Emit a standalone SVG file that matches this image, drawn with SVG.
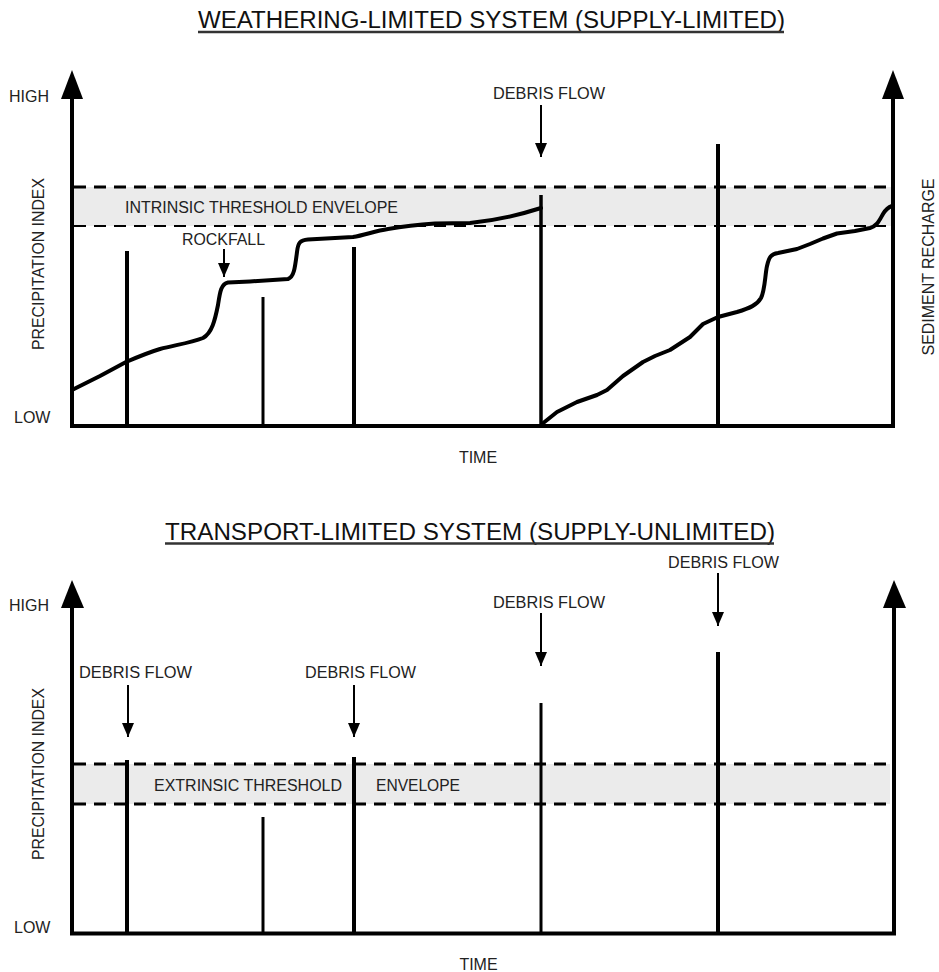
<svg xmlns="http://www.w3.org/2000/svg" width="939" height="972" viewBox="0 0 939 972">
  <style>
    .lbl { font-family: "Liberation Sans", Arial, sans-serif; font-size: 16px; fill: #222; }
    .ttl { font-family: "Liberation Sans", Arial, sans-serif; font-size: 23px; fill: #111; }
    .ax { stroke: #000; stroke-width: 4; fill: none; }
    .bar { stroke: #000; fill: none; }
    .dash { stroke: #000; stroke-dasharray: 12 8; fill: none; }
    .band { fill: #ebebeb; }
    .curve { stroke: #000; stroke-width: 4; fill: none; stroke-linejoin: round; stroke-linecap: round; }
    .ptr { stroke: #000; stroke-width: 2; fill: none; }
    .head { fill: #000; }
    .ul { stroke: #333; stroke-width: 2.5; }
  </style>
  <defs>
    <marker id="ah" markerUnits="userSpaceOnUse" markerWidth="14" markerHeight="12" refX="14" refY="6" orient="auto">
      <path d="M0,0 L14,6 L0,12 Z" fill="#000"/>
    </marker>
  </defs>
  <rect width="939" height="972" fill="#fff"/>

  <!-- ================= TOP PANEL ================= -->
  <g id="top-title">
    <text class="ttl" x="198" y="28" textLength="587" lengthAdjust="spacingAndGlyphs">WEATHERING-LIMITED SYSTEM (SUPPLY-LIMITED)</text>
    <line class="ul" x1="198" y1="32" x2="784" y2="32"/>
  </g>

  <g id="top-band">
    <rect class="band" x="72" y="187" width="819" height="39"/>
    <line class="dash" x1="74" y1="187" x2="891" y2="187" stroke-width="3"/>
    <line class="dash" x1="74" y1="226" x2="891" y2="226" stroke-width="2"/>
  </g>

  <g id="top-bars">
    <line class="bar" x1="127" y1="251" x2="127" y2="426" stroke-width="4"/>
    <line class="bar" x1="263" y1="297" x2="263" y2="426" stroke-width="3"/>
    <line class="bar" x1="354" y1="247" x2="354" y2="426" stroke-width="4"/>
    <line class="bar" x1="541" y1="195" x2="541" y2="426" stroke-width="3.5"/>
    <line class="bar" x1="718" y1="144" x2="718" y2="426" stroke-width="4"/>
  </g>

  <g id="top-curve">
    <path class="curve" d="M72,390 L100,376 L126,362 C140,356 150,352 160,349 C175,345 190,343 203,338 C212,333 215,320 218,305 C220,292 221,284 228,282.5 L250,281.5 L288,279 C294,277 295,268 297,252 C298,243 300,240 308,239.5 L353,237 C365,235 375,231 388,229 C400,227 415,225 435,223.5 L470,223 C490,221 510,218 541,208"/>
    <path class="curve" d="M542,424 L557,412 L567,407 L577,402 L597,395 L607,390 L615,383 L623,376 L643,362 L655,356 L670,350 L690,337 L703,324 L718,317 L737,312 C750,308 757,305 761,298 C765,290 765,275 767,266 C769,257 771,254 778,253 L797,249 L810,244 L823,238.5 L837,233.5 L855,231 L870,228 C877,226 879,221 883,214 C886,209 889,207 892,206"/>
  </g>

  <g id="top-axes">
    <polyline class="ax" points="72,99 72,426 893,426 893,99"/>
    <polygon class="head" points="72,70 61,99 83,99"/>
    <polygon class="head" points="893,70 882,99 904,99"/>
  </g>

  <g id="top-labels">
    <text class="lbl" x="9" y="102">HIGH</text>
    <text class="lbl" x="14" y="423">LOW</text>
    <text class="lbl" transform="translate(44,264) rotate(-90)" text-anchor="middle" textLength="172" lengthAdjust="spacingAndGlyphs">PRECIPITATION INDEX</text>
    <text class="lbl" transform="translate(934,267) rotate(-90)" text-anchor="middle" textLength="177" lengthAdjust="spacingAndGlyphs">SEDIMENT RECHARGE</text>
    <text class="lbl" x="125" y="212.5" textLength="273" lengthAdjust="spacingAndGlyphs">INTRINSIC THRESHOLD ENVELOPE</text>
    <text class="lbl" x="182" y="245" textLength="83" lengthAdjust="spacingAndGlyphs">ROCKFALL</text>
    <text class="lbl" x="493" y="99" textLength="112" lengthAdjust="spacingAndGlyphs">DEBRIS FLOW</text>
    <text class="lbl" x="478" y="463" text-anchor="middle">TIME</text>
  </g>

  <!-- ================= BOTTOM PANEL ================= -->
  <g id="bottom-title">
    <text class="ttl" x="165" y="540" textLength="610" lengthAdjust="spacingAndGlyphs">TRANSPORT-LIMITED SYSTEM (SUPPLY-UNLIMITED)</text>
    <line class="ul" x1="165" y1="543.5" x2="774" y2="543.5"/>
  </g>

  <g id="bottom-band">
    <rect class="band" x="72" y="764" width="818" height="40"/>
    <line class="dash" x1="74" y1="764" x2="890" y2="764" stroke-width="3"/>
    <line class="dash" x1="74" y1="804" x2="890" y2="804" stroke-width="3"/>
  </g>

  <g id="bottom-bars">
    <line class="bar" x1="127" y1="760" x2="127" y2="933" stroke-width="4"/>
    <line class="bar" x1="263" y1="817" x2="263" y2="933" stroke-width="3"/>
    <line class="bar" x1="354" y1="757" x2="354" y2="933" stroke-width="4"/>
    <line class="bar" x1="541" y1="703" x2="541" y2="933" stroke-width="3"/>
    <line class="bar" x1="718" y1="652" x2="718" y2="933" stroke-width="4"/>
  </g>

  <g id="bottom-axes">
    <polyline class="ax" points="72,607 72,933.5 894,933.5 894,607"/>
    <polygon class="head" points="72,580 61,608 84,608"/>
    <polygon class="head" points="894,580 883,608 906,608"/>
  </g>

  <g id="bottom-labels">
    <text class="lbl" x="9" y="611">HIGH</text>
    <text class="lbl" x="14" y="932.5">LOW</text>
    <text class="lbl" transform="translate(44,774) rotate(-90)" text-anchor="middle" textLength="172" lengthAdjust="spacingAndGlyphs">PRECIPITATION INDEX</text>
    <text class="lbl" x="154" y="790.5" textLength="188" lengthAdjust="spacingAndGlyphs">EXTRINSIC THRESHOLD</text>
    <text class="lbl" x="376" y="790.5" textLength="84" lengthAdjust="spacingAndGlyphs">ENVELOPE</text>
    <text class="lbl" x="79" y="678" textLength="113" lengthAdjust="spacingAndGlyphs">DEBRIS FLOW</text>
    <text class="lbl" x="305" y="678" textLength="111" lengthAdjust="spacingAndGlyphs">DEBRIS FLOW</text>
    <text class="lbl" x="493" y="608" textLength="112" lengthAdjust="spacingAndGlyphs">DEBRIS FLOW</text>
    <text class="lbl" x="668" y="568" textLength="111" lengthAdjust="spacingAndGlyphs">DEBRIS FLOW</text>
    <text class="lbl" x="478.5" y="970" text-anchor="middle">TIME</text>
  </g>

  <!-- ================= CONNECTORS (label pointers) ================= -->
  <g id="connectors">
    <line class="ptr" x1="541" y1="105" x2="541" y2="157" marker-end="url(#ah)"/>
    <line class="ptr" x1="224" y1="249" x2="224" y2="277" marker-end="url(#ah)"/>
    <line class="ptr" x1="128" y1="685" x2="128" y2="737" marker-end="url(#ah)"/>
    <line class="ptr" x1="354" y1="685" x2="354" y2="737" marker-end="url(#ah)"/>
    <line class="ptr" x1="541" y1="613" x2="541" y2="666" marker-end="url(#ah)"/>
    <line class="ptr" x1="718" y1="573" x2="718" y2="626" marker-end="url(#ah)"/>
  </g>
</svg>
